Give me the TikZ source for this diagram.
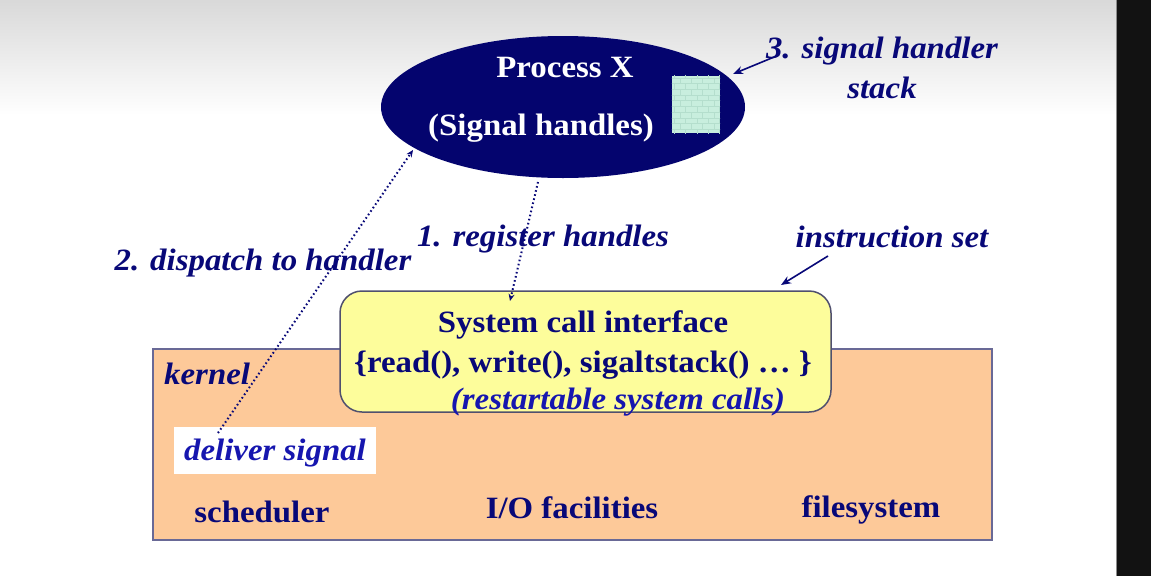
\documentclass[tikz,border=0pt]{standalone}
\usepackage{fontspec}
\setmainfont[FakeStretch=1.06]{Liberation Serif}
\usetikzlibrary{shapes.geometric,arrows.meta,patterns}
\definecolor{navy}{RGB}{8,8,120}
\definecolor{ellfill}{RGB}{4,4,110}
\definecolor{brightblue}{RGB}{22,22,175}
\definecolor{peach}{RGB}{253,201,153}
\definecolor{lyellow}{RGB}{253,253,155}
\definecolor{mint}{RGB}{200,238,222}
\definecolor{mintdark}{RGB}{180,222,205}
\definecolor{boxline}{RGB}{80,80,110}
\definecolor{kline}{RGB}{105,105,150}
\tikzset{
  lbl/.style={font=\fontsize{31}{40}\selectfont\bfseries, text=navy, inner sep=0pt, align=center},
  ilbl/.style={font=\fontsize{31}{40}\selectfont\bfseries\itshape, text=navy, inner sep=0pt, align=center},
  dotarrow/.style={draw=navy, line width=2pt, dash pattern=on 1.6pt off 2.6pt, -{Stealth[length=7pt,width=6pt]}},
  solarrow/.style={draw=navy, line width=1.6pt, -{Stealth[length=10pt,width=8pt]}},
}
\begin{document}
\begin{tikzpicture}[x=1pt,y=-1pt]
\useasboundingbox (0,0) rectangle (1151,576);
% background
\shade[top color=black!15, bottom color=white] (0,0) rectangle (1117,115);
\fill[white] (0,115) rectangle (1117,576);
\fill[black!93] (1117,0) rectangle (1151,576);
\draw[black!45, line width=1pt] (1116.5,0) -- (1116.5,576);
% kernel
\node[draw=kline, fill=peach, line width=1.5pt, minimum width=839pt, minimum height=191pt, inner sep=0pt] (kernel) at (572.5,444.5) {};
% system call box
\node[draw=boxline, fill=lyellow, line width=1.5pt, rounded corners=22pt, minimum width=491pt, minimum height=121pt, inner sep=0pt] (sys) at (585.5,351.5) {};
% deliver signal box
\node[fill=white, minimum width=202pt, minimum height=47pt, inner sep=0pt] (dbox) at (275,450.5) {};
% process ellipse
\node[ellipse, fill=ellfill, minimum width=364pt, minimum height=142pt, inner sep=0pt] (proc) at (563,107) {};
\node[fill=mint, minimum width=48pt, minimum height=57pt, inner sep=0pt] (stack) at (696,104.5) {};
\fill[pattern=bricks, pattern color=mintdark] (stack.south west) rectangle (stack.north east);
% texts
\node[lbl, text=white] (ptitle) at (565,67) {Process X};
\node[lbl, text=white] (psub) at (541,128) {(Signal handles)};
\node[ilbl] (t3) at (882,68) {3. signal handler\\stack};
\node[ilbl] (t1) at (543,239) {1. register handles};
\node[ilbl] (t2) at (263,263) {2. dispatch to handler};
\node[ilbl] (tis) at (892,237) {instruction set};
\node[lbl] (sys1) at (583,325) {System call interface};
\node[lbl] (sys2) at (583,365) {\{read(), write(), sigaltstack() … \}};
\node[ilbl, text=brightblue] (sys3) at (618,402) {(restartable system calls)};
\node[ilbl, anchor=west] (tk) at (164,374) {kernel};
\node[ilbl, text=brightblue] (tds) at (275,453) {deliver signal};
\node[lbl] (tsch) at (262,512) {scheduler};
\node[lbl] (tio) at (572,508) {I/O facilities};
\node[lbl] (tfs) at (871,510) {filesystem};
% connector end points
\coordinate (r1s) at (538,182);
\coordinate (r1e) at (510,301);
\coordinate (d2s) at (218,433);
\coordinate (d2e) at (413,150);
\coordinate (s3s) at (779,55);
\coordinate (s3e) at (733,74);
\coordinate (iss) at (828,256);
\coordinate (ise) at (781,285);
% connectors
\draw[dotarrow] (r1s) -- (r1e);
\draw[dotarrow] (d2s) -- (d2e);
\draw[solarrow] (s3s) -- (s3e);
\draw[solarrow] (iss) -- (ise);
\end{tikzpicture}
\end{document}
